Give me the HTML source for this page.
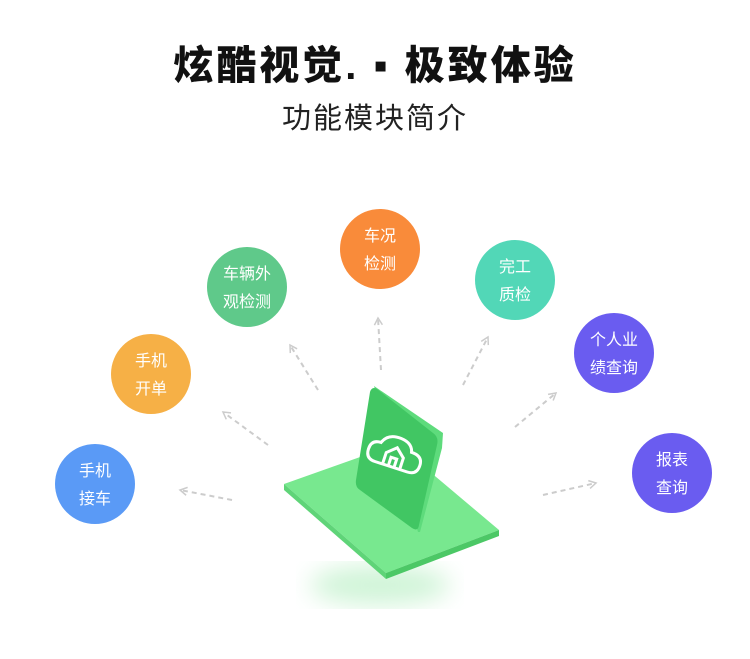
<!DOCTYPE html>
<html><head><meta charset="utf-8"><style>
body{margin:0;width:750px;height:659px;background:#fff;overflow:hidden;font-family:"Liberation Sans","Noto Sans CJK SC",sans-serif}
.t{position:absolute;left:0;width:750px;text-align:center;color:#111}
</style></head><body>
<div class="t" style="top:33px;font-size:40px;font-weight:900;letter-spacing:3px">炫酷视觉. ▪ 极致体验</div>
<div class="t" style="top:95px;font-size:29px;letter-spacing:2px;color:#222">功能模块简介</div>
<svg width="750" height="659" style="position:absolute;left:0;top:0" font-family="Liberation Sans, Noto Sans CJK SC, sans-serif">
<defs><marker id="a" markerWidth="10" markerHeight="10" refX="8" refY="5" orient="auto" markerUnits="userSpaceOnUse"><path d="M1,1 L8,5 L1,9" fill="none" stroke="#ccc" stroke-width="1.5"/></marker>
<filter id="b"><feGaussianBlur stdDeviation="12"/></filter></defs>
<g stroke="#ccc" stroke-width="2" stroke-dasharray="5,4" marker-end="url(#a)">
<line x1="232" y1="500" x2="180" y2="490"/>
<line x1="268" y1="445" x2="223" y2="412"/>
<line x1="318" y1="390" x2="290" y2="345"/>
<line x1="381" y1="370" x2="378" y2="318"/>
<line x1="463" y1="385" x2="488" y2="337"/>
<line x1="515" y1="427" x2="556" y2="393"/>
<line x1="543" y1="495" x2="596" y2="483"/>
</g>
<ellipse cx="380" cy="585" rx="70" ry="20" fill="#d0f4d8" filter="url(#b)"/>
<polygon points="284,484 397,444 499,530 386,573" fill="#78e88f"/>
<polygon points="284,484 386,573 386,579 284,490" fill="#5fd478"/>
<polygon points="386,573 499,530 499,536 386,579" fill="#4cc866"/>
<polygon points="374,386 443,433 442,448 420,532 418,532" fill="#5edb7c"/>
<path d="M377,389 Q372,386 370,392 L356,480 Q355,487 360,490 L412,528 Q418,532 419,525 L437,445 Q439,437 433,433 Z" fill="#41c663"/>
<g fill="none" stroke="#fff" stroke-width="3" stroke-linecap="round" transform="rotate(18 397 455)">
<path d="M378,468 Q368,468 368,458 Q368,448 378,448 Q382,437 396,438 Q408,439 410,448 Q422,448 422,458 Q422,468 412,468 Z"/>
<path d="M386,466 L386,456 L395,448 L404,456 L404,466 M392,466 L392,459 L398,459 L398,466"/>
</g>
<g font-size="16" fill="#fff" text-anchor="middle">
<circle cx="95" cy="484" r="40" fill="#5a9af6"/><text x="95" y="476">手机</text><text x="95" y="504">接车</text>
<circle cx="151" cy="374" r="40" fill="#f6b046"/><text x="151" y="366">手机</text><text x="151" y="394">开单</text>
<circle cx="247" cy="287" r="40" fill="#5fc98a"/><text x="247" y="279">车辆外</text><text x="247" y="307">观检测</text>
<circle cx="380" cy="249" r="40" fill="#f98b3a"/><text x="380" y="241">车况</text><text x="380" y="269">检测</text>
<circle cx="515" cy="280" r="40" fill="#52d7b7"/><text x="515" y="272">完工</text><text x="515" y="300">质检</text>
<circle cx="614" cy="353" r="40" fill="#6a5cf0"/><text x="614" y="345">个人业</text><text x="614" y="373">绩查询</text>
<circle cx="672" cy="473" r="40" fill="#6a5cf0"/><text x="672" y="465">报表</text><text x="672" y="493">查询</text>
</g>
</svg>
</body></html>
